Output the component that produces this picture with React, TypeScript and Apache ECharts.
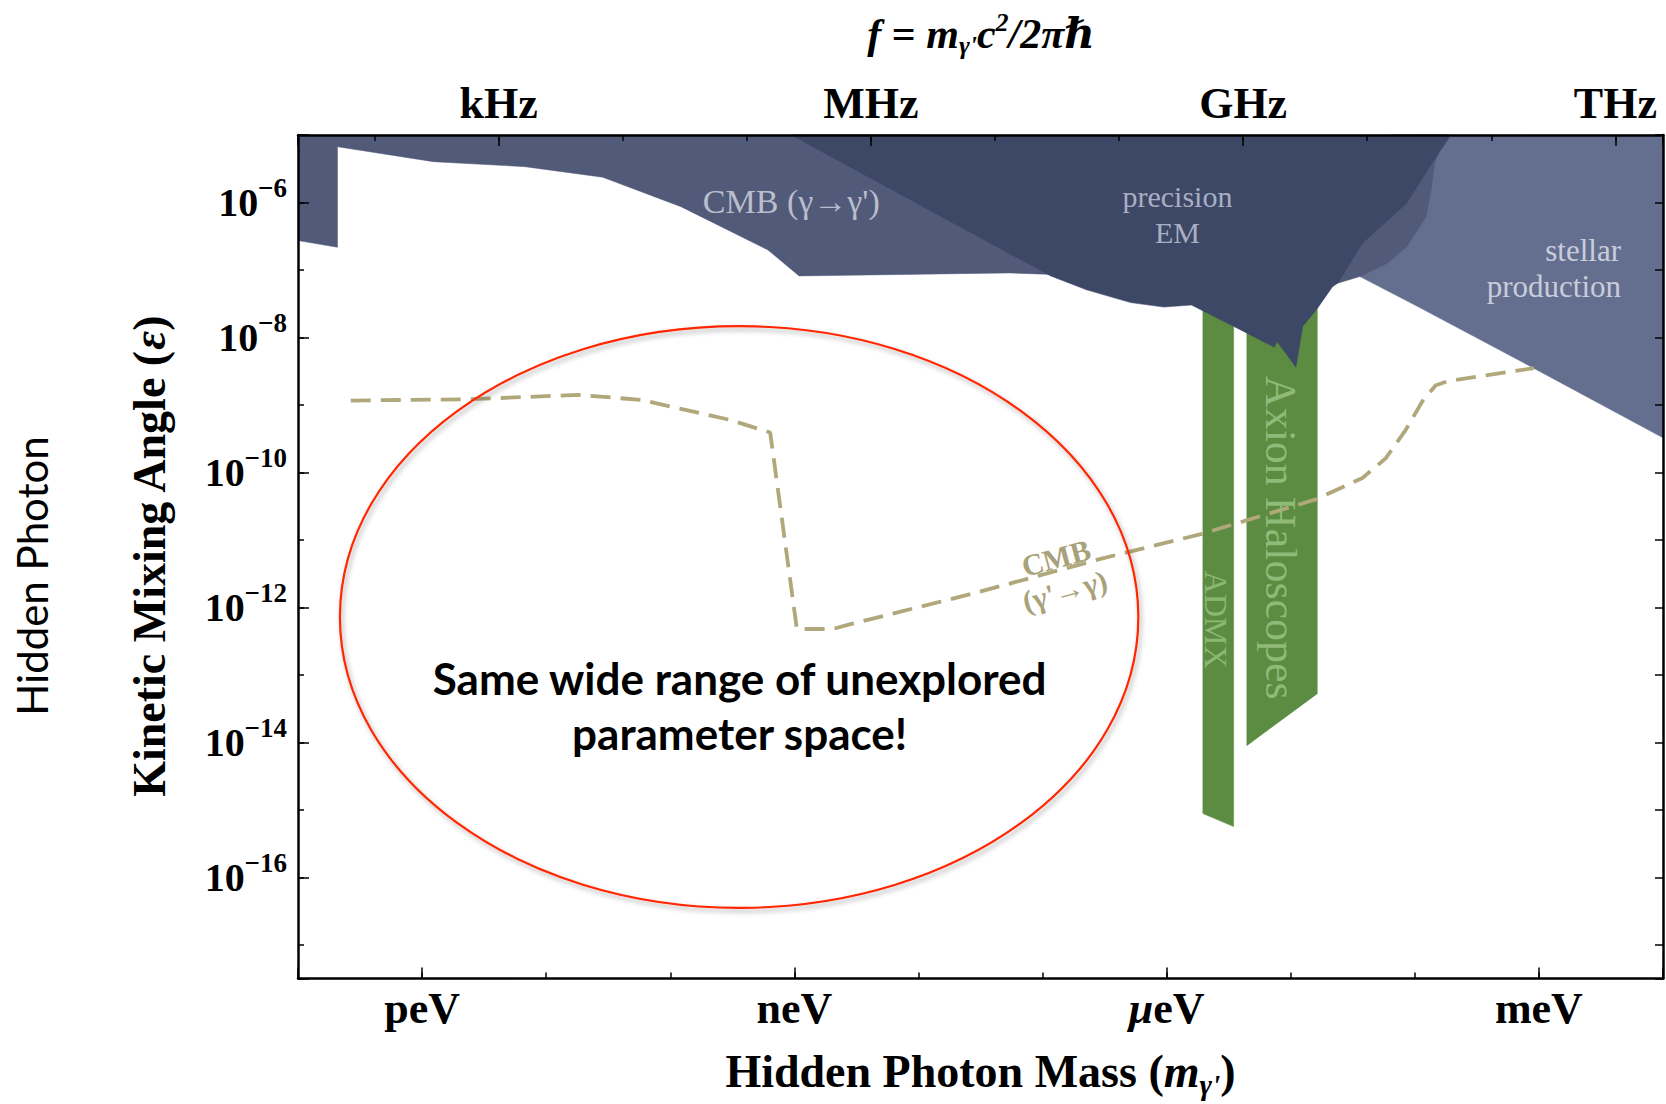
import React, { useEffect, useRef } from 'react';
import * as echarts from 'echarts';

type Pt = [number, number];

// ---------- axes (all in log10 units) ----------
const massLogExtent: Pt = [-13, -2]; // log10(m / eV)
const epsLogExtent: Pt = [-17.5, -5]; // log10(epsilon)
const log10PlanckEvS = Math.log10(4.135667696e-15); // f = m c^2 / (2 pi hbar) = m / h
const freqLogExtent: Pt = [massLogExtent[0] - log10PlanckEvS, massLogExtent[1] - log10PlanckEvS];

const massTickNames: Record<string, string> = { '-12': 'peV', '-9': 'neV', '-6': 'μeV', '-3': 'meV' };
const freqTickNames: Record<string, string> = { '3': 'kHz', '6': 'MHz', '9': 'GHz', '12': 'THz' };

// ---------- excluded regions: [log10 m, log10 eps] ----------
const cmbToHiddenRegion: Pt[] = [
  [-13, -5], [-13, -6.565], [-12.682, -6.663], [-12.682, -5.173], [-11.909, -5.395],
  [-11.172, -5.469], [-10.544, -5.626], [-9.914, -6.062], [-9.213, -6.703], [-8.962, -7.088],
  [-7.266, -7.044], [-6.864, -7.07], [-6.5, -7.0], [-8.0, -5],
];
const precisionEmRegion: Pt[] = [
  [-9.025, -5], [-6.934, -7.089], [-6.646, -7.295], [-6.29, -7.484], [-6.023, -7.55],
  [-5.8, -7.52], [-5.455, -7.84], [-5.132, -8.145], [-5.11, -8.06], [-4.958, -8.441],
  [-4.904, -7.839], [-4.784, -7.567], [-4.663, -7.247], [-4.621, -7.196], [-4.422, -6.604],
  [-4.066, -6.011], [-3.845, -5.37], [-3.71, -5],
];
const stellarEdgeRegion: Pt[] = [
  [-4.621, -7.196], [-4.443, -7.098], [-4.22, -6.9], [-4.064, -6.654], [-3.909, -6.211],
  [-3.864, -5.765], [-3.841, -5.419], [-3.75, -5], [-4.2, -5], [-4.8, -6.5],
];
const stellarRegion: Pt[] = [
  [-4.0, -5], [-2, -5], [-2, -9.488], [-3.042, -8.455], [-3.976, -7.543], [-4.443, -7.098], [-4.2, -6.5],
];
const admxBand: Pt[] = [[-5.708, -7.56], [-5.46, -7.56], [-5.46, -15.249], [-5.708, -15.056]];
const haloscopeBand: Pt[] = [[-5.354, -7.56], [-4.786, -7.56], [-4.786, -13.279], [-5.354, -14.049]];

// CMB (gamma' -> gamma) sensitivity curve
const cmbFromHiddenLimit: Pt[] = [
  [-12.575, -8.935], [-11.635, -8.917], [-10.741, -8.851], [-10.238, -8.925], [-9.878, -9.073],
  [-9.52, -9.221], [-9.195, -9.408], [-8.98, -12.321], [-8.692, -12.321], [-8.555, -12.253],
  [-7.529, -11.78], [-6.516, -11.273], [-5.723, -10.914], [-4.798, -10.4], [-4.422, -10.082],
  [-4.235, -9.792], [-4.073, -9.369], [-3.939, -8.946], [-3.831, -8.708], [-3.724, -8.643],
  [-3.041, -8.456],
];

// highlighted unexplored region
const ellipseCenter: Pt = [-9.445, -12.143];
const ellipseRadii: Pt = [3.217, 4.311];

// label anchors
const cmbForwardLabelAt: Pt = [-9.025, -5.99];
const precisionLabelAt: Pt = [-5.913, -6.177];
const stellarLabelAt: Pt = [-2.338, -6.985];
const haloscopeLabelAt: Pt = [-5.084, -10.969];
const admxLabelAt: Pt = [-5.604, -12.183];
const cmbReverseLabelAt: Pt = [-6.856, -11.509];
const ellipseTextAt: Pt = [-9.441, -13.449];

const serif = "'Liberation Serif', 'DejaVu Serif', serif";
const sans = "Lato, 'Open Sans', sans-serif";
const AXIS_W = 2.5;
const black = '#000';

const isStep = (v: number, step: number) => {
  const r = Math.round(v);
  return Math.abs(v - r) < 1e-6 && r % step === 0;
};

const polySeries = (pts: Pt[], fill: string, z: number) => ({
  type: 'custom',
  xAxisIndex: 0,
  yAxisIndex: 0,
  silent: true,
  z,
  data: [pts[0]],
  renderItem: (_p: any, api: any) => ({
    type: 'polygon',
    shape: { points: pts.map((p) => api.coord(p)) },
    style: { fill, stroke: fill, lineWidth: 0.5 },
  }),
});

const textSeries = (anchor: Pt, style: any, rotation = 0) => ({
  type: 'custom',
  xAxisIndex: 0,
  yAxisIndex: 0,
  silent: true,
  z: 8,
  data: [anchor],
  renderItem: (_p: any, api: any) => {
    const c = api.coord(anchor);
    return { type: 'text', x: c[0], y: c[1], rotation, style };
  },
});

const baseAxis = {
  type: 'value',
  splitLine: { show: false },
  z: 10,
};

export default function App() {
  const ref = useRef<HTMLDivElement>(null);

  useEffect(() => {
    if (!ref.current) return;
    const chart = echarts.init(ref.current, undefined, { renderer: 'svg' });

    const tickStyle = { color: black, width: 1.5 };
    const lineStyle = { color: black, width: AXIS_W };

    const option: any = {
      animation: false,
      backgroundColor: '#fff',
      grid: { left: 298, top: 135, width: 1366, height: 844, containLabel: false },
      xAxis: [
        {
          ...baseAxis,
          position: 'bottom',
          min: massLogExtent[0],
          max: massLogExtent[1],
          minInterval: 1,
          maxInterval: 1,
          splitNumber: 11,
          axisLine: { show: true, onZero: false, lineStyle },
          axisTick: { show: true, inside: true, length: 6, lineStyle: tickStyle },
          axisLabel: { show: false },
          name: "{b|Hidden Photon Mass (}{i|m}{sub|γ'}{b|)}",
          nameLocation: 'middle',
          nameGap: 70,
          nameTextStyle: {
            rich: {
              b: { fontFamily: serif, fontWeight: 'bold', fontSize: 46, lineHeight: 46, color: black },
              i: { fontFamily: serif, fontWeight: 'bold', fontStyle: 'italic', fontSize: 46, lineHeight: 46, color: black },
              sub: { fontFamily: serif, fontWeight: 'bold', fontStyle: 'italic', fontSize: 30, lineHeight: 30, padding: [25, 0, 0, 0], color: black },
            },
          },
        },
        {
          ...baseAxis,
          position: 'bottom',
          min: massLogExtent[0],
          max: massLogExtent[1],
          minInterval: 3,
          maxInterval: 3,
          splitNumber: 4,
          axisLine: { show: false, onZero: false },
          axisTick: { show: true, inside: true, length: 11, lineStyle: tickStyle },
          axisLabel: {
            show: true,
            margin: 8,
            formatter: (v: number) => {
              if (!isStep(v, 1)) return '';
              const n = massTickNames[String(Math.round(v))];
              if (!n) return '';
              if (n.startsWith('μ')) return '{mu|μ}{t|eV}';
              return '{t|' + n + '}';
            },
            rich: {
              t: { fontFamily: serif, fontWeight: 'bold', fontSize: 44, color: black },
              mu: { fontFamily: serif, fontWeight: 'bold', fontStyle: 'italic', fontSize: 44, color: black },
            },
          },
        },
        {
          ...baseAxis,
          position: 'top',
          min: freqLogExtent[0],
          max: freqLogExtent[1],
          minInterval: 1,
          maxInterval: 1,
          splitNumber: 11,
          axisLine: { show: true, onZero: false, lineStyle },
          axisTick: { show: true, inside: true, length: 6, lineStyle: tickStyle },
          axisLabel: { show: false },
        },
        {
          ...baseAxis,
          position: 'top',
          min: freqLogExtent[0],
          max: freqLogExtent[1],
          minInterval: 3,
          maxInterval: 3,
          splitNumber: 4,
          axisLine: { show: false, onZero: false },
          axisTick: { show: true, inside: true, length: 11, lineStyle: tickStyle },
          axisLabel: {
            show: true,
            margin: 10,
            fontFamily: serif,
            fontWeight: 'bold',
            fontSize: 44,
            color: black,
            formatter: (v: number) => (isStep(v, 1) ? freqTickNames[String(Math.round(v))] || '' : ''),
          },
        },
      ],
      yAxis: [
        {
          ...baseAxis,
          position: 'left',
          min: epsLogExtent[0],
          max: epsLogExtent[1],
          minInterval: 1,
          maxInterval: 1,
          splitNumber: 12,
          axisLine: { show: true, onZero: false, lineStyle },
          axisTick: { show: true, inside: true, length: 6, lineStyle: tickStyle },
          axisLabel: { show: false },
          name: '{b|Kinetic Mixing Angle (}{i|ε}{b|)}',
          nameLocation: 'middle',
          nameRotate: 90,
          nameGap: 126,
          nameTextStyle: {
            rich: {
              b: { fontFamily: serif, fontWeight: 'bold', fontSize: 46, lineHeight: 46, color: black },
              i: { fontFamily: serif, fontWeight: 'bold', fontStyle: 'italic', fontSize: 46, lineHeight: 46, color: black },
            },
          },
        },
        {
          ...baseAxis,
          position: 'left',
          min: epsLogExtent[0],
          max: epsLogExtent[1],
          minInterval: 2,
          maxInterval: 2,
          splitNumber: 6,
          axisLine: { show: false, onZero: false },
          axisTick: { show: true, inside: true, length: 11, lineStyle: tickStyle },
          axisLabel: {
            show: true,
            margin: 11,
            formatter: (v: number) => (isStep(v, 2) ? `{b|10}{s|−${Math.abs(Math.round(v))}}` : ''),
            rich: {
              b: { fontFamily: serif, fontWeight: 'bold', fontSize: 40, lineHeight: 40, color: black },
              s: { fontFamily: serif, fontWeight: 'bold', fontSize: 27, lineHeight: 27, padding: [0, 0, 29, 0], color: black },
            },
          },
        },
        {
          ...baseAxis,
          position: 'right',
          min: epsLogExtent[0],
          max: epsLogExtent[1],
          minInterval: 1,
          maxInterval: 1,
          splitNumber: 12,
          axisLine: { show: true, onZero: false, lineStyle },
          axisTick: { show: true, inside: true, length: 8, lineStyle: tickStyle },
          axisLabel: { show: false },
        },
      ],
      graphic: [
        {
          type: 'text',
          x: 981,
          y: 34,
          style: {
            text: "{i|f} {r|=} {i|m}{sub|γ'}{i|c}{sup|2}{i|/2πℏ}",
            align: 'center',
            verticalAlign: 'middle',
            fontFamily: serif,
            fontSize: 42,
            fill: black,
            rich: {
              i: { fontFamily: serif, fontStyle: 'italic', fontWeight: 'bold', fontSize: 42, lineHeight: 42, fill: black },
              r: { fontFamily: serif, fontWeight: 'bold', fontSize: 42, lineHeight: 42, fill: black },
              sub: { fontFamily: serif, fontStyle: 'italic', fontWeight: 'bold', fontSize: 26, lineHeight: 26, padding: [22, 0, 0, 0], fill: black },
              sup: { fontFamily: serif, fontStyle: 'italic', fontWeight: 'bold', fontSize: 26, lineHeight: 26, padding: [0, 0, 24, 0], fill: black },
            },
          },
        },
        {
          type: 'text',
          x: 32,
          y: 576,
          rotation: Math.PI / 2,
          style: {
            text: 'Hidden Photon',
            fontFamily: sans,
            fontSize: 42,
            fill: black,
            align: 'center',
            verticalAlign: 'middle',
          },
        },
      ],
      series: [
        polySeries(stellarRegion, '#646f8f', 2),
        polySeries(stellarEdgeRegion, '#525a79', 2),
        polySeries(cmbToHiddenRegion, '#525a79', 2),
        polySeries(admxBand, '#5b8c42', 2),
        polySeries(haloscopeBand, '#5b8c42', 2),
        polySeries(precisionEmRegion, '#3d4766', 2),
        {
          type: 'line',
          xAxisIndex: 0,
          yAxisIndex: 0,
          data: cmbFromHiddenLimit,
          symbol: 'none',
          showSymbol: false,
          silent: true,
          z: 5,
          lineStyle: { color: '#b0a87a', width: 3.8, type: [20, 10] },
        },
        {
          type: 'custom',
          xAxisIndex: 0,
          yAxisIndex: 0,
          silent: true,
          z: 7,
          data: [ellipseCenter],
          renderItem: (_p: any, api: any) => {
            const c = api.coord(ellipseCenter);
            const s = api.size([ellipseRadii[0] * 2, ellipseRadii[1] * 2], ellipseCenter);
            return {
              type: 'ellipse',
              shape: { cx: c[0], cy: c[1], rx: s[0] / 2, ry: s[1] / 2 },
              style: {
                fill: 'none',
                stroke: '#ff2600',
                lineWidth: 2.2,
                shadowBlur: 5,
                shadowColor: 'rgba(0,0,0,0.35)',
                shadowOffsetX: 2,
                shadowOffsetY: 3,
              },
            };
          },
        },
        textSeries(cmbForwardLabelAt, {
          text: "CMB (γ→γ')", fill: '#b9bdcc', fontFamily: serif, fontSize: 34, align: 'center', verticalAlign: 'middle',
        }),
        textSeries(precisionLabelAt, {
          text: 'precision\nEM', fill: '#a9afc2', fontFamily: serif, fontSize: 30, lineHeight: 36, align: 'center', verticalAlign: 'middle',
        }),
        textSeries(stellarLabelAt, {
          text: 'stellar\nproduction', fill: '#c9cddb', fontFamily: serif, fontSize: 31, lineHeight: 36, align: 'right', verticalAlign: 'middle',
        }),
        textSeries(haloscopeLabelAt, {
          text: 'Axion Haloscopes', fill: '#8fba77', fontFamily: serif, fontSize: 44, align: 'center', verticalAlign: 'middle',
        }, -Math.PI / 2),
        textSeries(admxLabelAt, {
          text: 'ADMX', fill: '#8ab873', fontFamily: serif, fontSize: 32, align: 'center', verticalAlign: 'middle',
        }, -Math.PI / 2),
        textSeries(cmbReverseLabelAt, {
          text: "CMB\n(γ'→γ)", fill: '#a8a27a', fontFamily: serif, fontWeight: 'bold', fontSize: 30, lineHeight: 34, align: 'center', verticalAlign: 'middle',
        }, (15 * Math.PI) / 180),
        textSeries(ellipseTextAt, {
          text: 'Same wide range of unexplored\nparameter space!', fill: black, fontFamily: sans, fontWeight: 'bold', fontSize: 44, lineHeight: 55, align: 'center', verticalAlign: 'middle',
        }),
      ],
    };

    chart.setOption(option);
    return () => chart.dispose();
  }, []);

  return (
    <div
      ref={ref}
      style={{ position: 'fixed', left: 0, top: 0, width: 1666, height: 1104, background: '#fff' }}
    />
  );
}
